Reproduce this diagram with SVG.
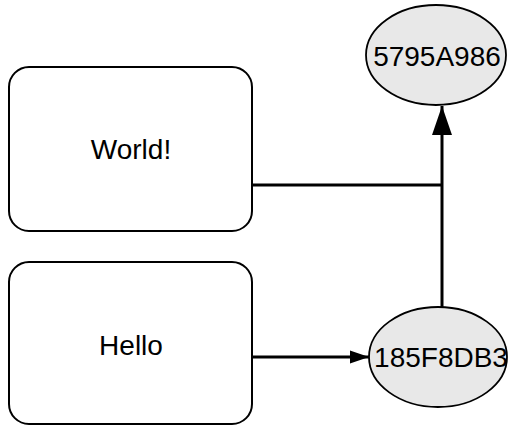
<svg xmlns="http://www.w3.org/2000/svg" width="508" height="426" viewBox="0 0 508 426">
<style>
.box{fill:#fff;stroke:#000;stroke-width:2}
.ell{fill:#e8e8e8;stroke:#000;stroke-width:1.8}
.t{font-family:"Liberation Sans",Arial,sans-serif;font-size:28px;fill:#000;text-anchor:middle}
.c{fill:none;stroke:#000;stroke-width:3}
</style>
<defs>
<marker id="ah" markerUnits="userSpaceOnUse" markerWidth="20" markerHeight="14" viewBox="0 0 20 14" refX="19" refY="7" orient="auto">
<path d="M0,0.5 L19,7 L0,13.5 Z" fill="#000"/>
</marker>
<marker id="ahBig" markerUnits="userSpaceOnUse" markerWidth="30" markerHeight="22" viewBox="0 0 30 22" refX="29" refY="11" orient="auto">
<path d="M0,1 L29,11 L0,21 Z" fill="#000"/>
</marker>
</defs>
<g id="world"><rect class="box" x="9" y="67" width="243" height="164" rx="20"/><text class="t" x="131" y="159">World!</text></g>
<g id="hello"><rect class="box" x="9" y="262" width="243" height="162" rx="20"/><text class="t" x="131" y="355">Hello</text></g>
<g id="h1"><ellipse class="ell" cx="436" cy="55" rx="70" ry="50"/><text class="t" x="437" y="66">5795A986</text></g>
<g id="h2"><ellipse class="ell" cx="438" cy="357" rx="69" ry="50"/><text class="t" x="441" y="367">185F8DB3</text></g>
<g id="connectors">
<path class="c" d="M252,357 H369" marker-end="url(#ah)"/>
<path class="c" d="M442,307 V106" marker-end="url(#ahBig)"/>
<path class="c" d="M252,185 H442"/>
</g>
</svg>
